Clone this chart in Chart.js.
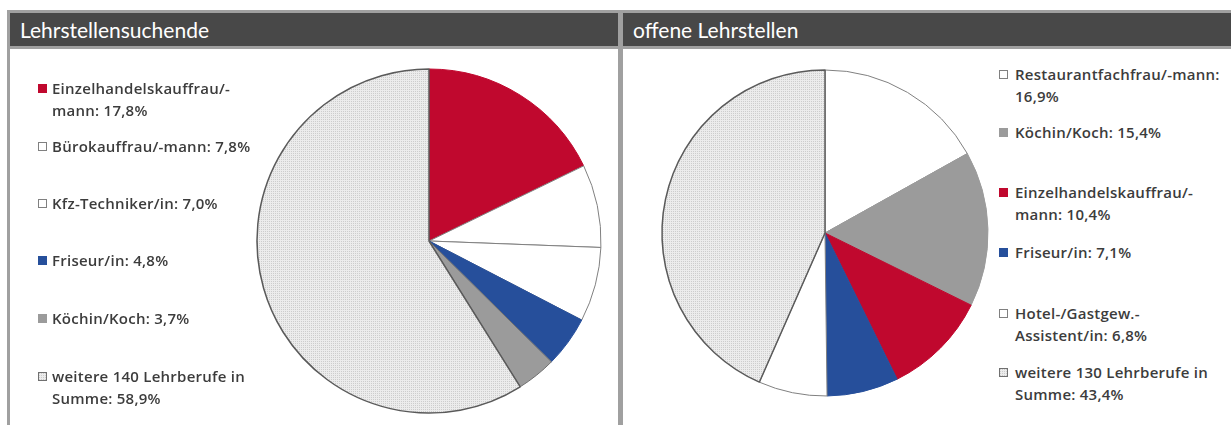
<!DOCTYPE html>
<html>
<head>
<meta charset="utf-8">
<script src="https://cdn.jsdelivr.net/npm/chart.js@4.4.1/dist/chart.umd.min.js"></script>
<style>
  html, body { margin: 0; padding: 0; background: #fff; }
  body { width: 1231px; height: 425px; position: relative; overflow: hidden; font-family: "Open Sans", sans-serif; }
  #frame { position: absolute; left: 7px; top: 10px; width: 1240px; height: 430px; background: #a0a0a0; }
  .panel { position: absolute; top: 13px; bottom: 0; background: #fff; }
  .head { position: absolute; left: 0; right: 0; top: 0; height: 33px; background: #484848; color: #fff;
          font-family: Lato, "Open Sans", sans-serif; font-size: 21px; line-height: 34px; padding-left: 10px; box-sizing: border-box; }
  .headline { position: absolute; left: 0; right: 0; top: 33px; height: 3px; background: #a0a0a0; }
  .chartbox { position: absolute; }
  .leg { position: absolute; font-size: 15px; font-weight: 600; letter-spacing: 0.25px; line-height: 22px; color: #3c3c3c; white-space: pre-line; }
  .sw { position: absolute; width: 9px; height: 9px; box-sizing: border-box; }
</style>
</head>
<body>
<div id="frame"></div>
<div class="panel" style="left:10px; width:608px;"><div class="head" id="h1"></div><div class="headline"></div></div>
<div class="panel" style="left:623px; width:620px;"><div class="head" id="h2"></div><div class="headline"></div></div>
<div class="chartbox" style="left:249px; top:61px; width:360px; height:360px;"><canvas id="c1" width="360" height="360"></canvas></div>
<div class="chartbox" style="left:655px; top:63px; width:340px; height:340px;"><canvas id="c2" width="340" height="340"></canvas></div>
<div id="legends"></div>
<script>
// ---- data ----
const leftTitle = 'Lehrstellensuchende';
const leftLabels = ['Einzelhandelskauffrau/-\nmann', 'Bürokauffrau/-mann', 'Kfz-Techniker/in', 'Friseur/in', 'Köchin/Koch', 'weitere 140 Lehrberufe in\nSumme'];
const leftValues = [17.8, 7.8, 7.0, 4.8, 3.7, 58.9];

const rightTitle = 'offene Lehrstellen';
const rightLabels = ['Restaurantfachfrau/-mann', 'Köchin/Koch', 'Einzelhandelskauffrau/-\nmann', 'Friseur/in', 'Hotel-/Gastgew.-\nAssistent/in', 'weitere 130 Lehrberufe in\nSumme'];
const rightValues = [16.9, 15.4, 10.4, 7.1, 6.8, 43.4];

// ---- styles ----
const RED = '#c0082e', BLUE = '#264f9b', GRAY = '#9b9b9b', WHITE = '#ffffff';
function makePattern() {
  const p = document.createElement('canvas');
  p.width = 2; p.height = 2;
  const g = p.getContext('2d');
  g.fillStyle = '#ececec'; g.fillRect(0, 0, 2, 2);
  g.fillStyle = '#cdcdcd'; g.fillRect(0, 0, 1, 1);
  return { canvas: p, pattern: document.createElement('canvas').getContext('2d').createPattern(p, 'repeat') };
}
const pat = makePattern();
const leftColors = [RED, WHITE, WHITE, BLUE, GRAY, pat.pattern];
const rightColors = [WHITE, GRAY, RED, BLUE, WHITE, pat.pattern];
const leftBorders = [RED, '#808080', '#808080', BLUE, '#707070', '#5a5a5a'];
const rightBorders = ['#808080', GRAY, RED, BLUE, '#808080', '#5a5a5a'];
const leftLegendY = [88, 146, 203, 260, 318, 376];
const rightLegendY = [74, 132, 192, 252, 313, 372];

document.getElementById('h1').textContent = leftTitle;
document.getElementById('h2').textContent = rightTitle;

const fmt = v => v.toFixed(1).replace('.', ',') + '%';

function pie(id, labels, values, colors, borders, radius) {
  new Chart(document.getElementById(id), {
    type: 'pie',
    data: { labels: labels, datasets: [{ data: values, backgroundColor: colors, borderColor: borders,
      borderWidth: [1, 1, 1, 1, 1, 1.5], radius: radius }] },
    options: {
      responsive: false, animation: false, rotation: 0,
      layout: { padding: 0 },
      plugins: { legend: { display: false }, tooltip: { enabled: false } }
    }
  });
}
pie('c1', leftLabels, leftValues, leftColors, leftBorders, 172);
pie('c2', rightLabels, rightValues, rightColors, rightBorders, 163);

function legend(labels, values, colors, ys, swX, textX, width) {
  const host = document.getElementById('legends');
  const patURL = pat.canvas.toDataURL();
  labels.forEach((lab, i) => {
    const sw = document.createElement('div');
    sw.className = 'sw';
    sw.style.left = swX + 'px';
    sw.style.top = (ys[i] - 4.5) + 'px';
    const c = colors[i];
    if (typeof c === 'string') {
      sw.style.background = c;
      if (c === WHITE) sw.style.border = '1px solid #808080';
    } else {
      sw.style.backgroundImage = 'url(' + patURL + ')';
      sw.style.border = '1px solid #707070';
    }
    host.appendChild(sw);
    const t = document.createElement('div');
    t.className = 'leg';
    t.style.left = textX + 'px';
    t.style.top = (ys[i] - 11) + 'px';
    t.style.width = width + 'px';
    t.textContent = lab + ': ' + fmt(values[i]);
    host.appendChild(t);
  });
}
legend(leftLabels, leftValues, leftColors, leftLegendY, 38, 52, 235);
legend(rightLabels, rightValues, rightColors, rightLegendY, 999, 1015, 216);
</script>
</body>
</html>
